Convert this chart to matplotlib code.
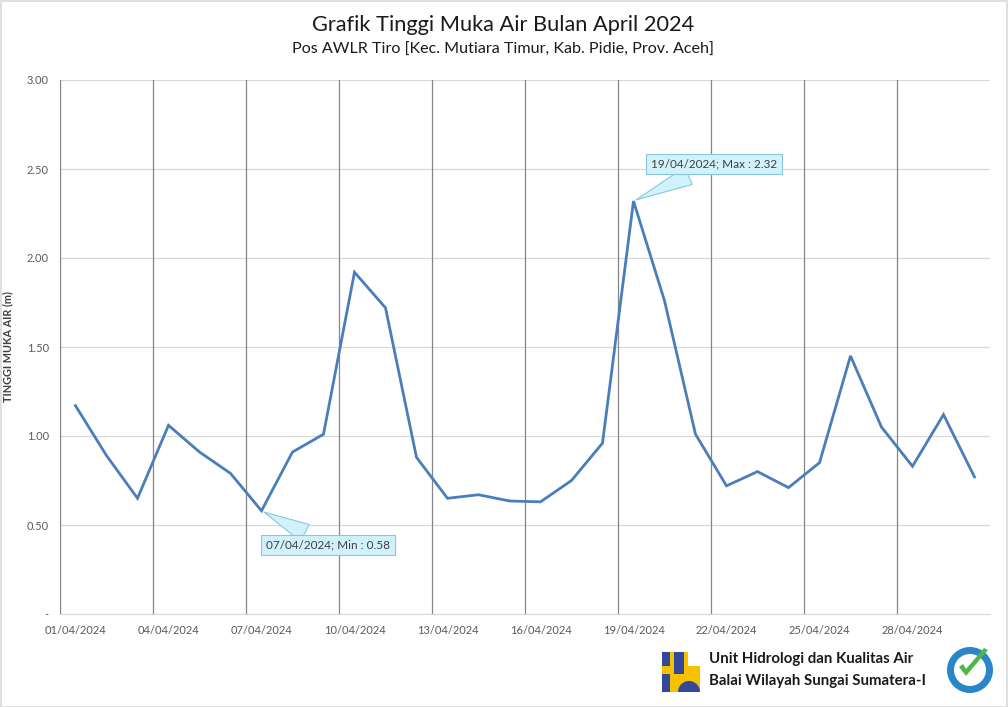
import matplotlib
matplotlib.use("Agg")
import matplotlib.pyplot as plt
import numpy as np
from matplotlib.patches import Rectangle, Circle, Wedge, Polygon

plt.rcParams['font.family'] = ['Lato', 'DejaVu Sans']

dates = [f"{d:02d}/04/2024" for d in range(1, 31)]
levels = [1.17, 0.89, 0.65, 1.06, 0.91, 0.79, 0.58, 0.91, 1.01, 1.92,
          1.72, 0.88, 0.65, 0.67, 0.635, 0.63, 0.75, 0.96, 2.32, 1.76,
          1.01, 0.72, 0.80, 0.71, 0.85, 1.45, 1.05, 0.83, 1.12, 0.77]
yticks = [0, 0.5, 1.0, 1.5, 2.0, 2.5, 3.0]
ytick_labels = ["-", "0.50", "1.00", "1.50", "2.00", "2.50", "3.00"]
title = "Grafik Tinggi Muka Air Bulan April 2024"
subtitle = "Pos AWLR Tiro [Kec. Mutiara Timur, Kab. Pidie, Prov. Aceh]"
ylabel = "TINGGI MUKA AIR (m)"
footer1 = "Unit Hidrologi dan Kualitas Air"
footer2 = "Balai Wilayah Sungai Sumatera-I"

W, H = 1008, 707
fig = plt.figure(figsize=(W / 100, H / 100), dpi=100)
ax = fig.add_axes([60 / W, 1 - 614 / H, 930 / W, 534 / H])

x = np.arange(len(levels))
ax.set_xlim(-0.5, len(levels) - 0.5)
ax.set_ylim(0, 3.0)
ax.set_yticks(yticks)
ax.set_yticklabels(ytick_labels)
ax.yaxis.grid(True, color='#d9d9d9', lw=0.9)
ax.set_axisbelow(True)
for i in range(0, len(levels), 3):
    ax.axvline(i - 0.5, color='#868686', lw=0.9, zorder=1)
ax.set_xticks(x[::3])
ax.set_xticklabels([dates[i] for i in x[::3]])
ax.tick_params(axis='both', length=0, labelsize=8, colors='#595959', pad=8)
for s in ['top', 'right']:
    ax.spines[s].set_visible(False)
ax.spines['left'].set_color('#868686')
ax.spines['bottom'].set_color('#d9d9d9')

ax.plot(x, levels, color='#4a7ebb', lw=2.0, zorder=3, solid_joinstyle='miter')

ax.set_ylabel(ylabel, fontsize=7.8, fontweight='bold', color='#404040')
ax.yaxis.set_label_coords((13 - 60) / 930, 0.5)

imin = int(np.argmin(levels))
imax = int(np.argmax(levels))
box = dict(boxstyle='square,pad=0.4', fc='#d2f2fb', ec='#86c9dc', lw=0.8)
arrow = dict(arrowstyle='wedge,tail_width=1.6,shrink_factor=0.5', fc='#d2f2fb',
             ec='#86c9dc', lw=0.8)
ax.annotate(f"{dates[imin]}; Min : {levels[imin]:.2f}", xy=(imin, levels[imin]),
            xytext=(48, -24.5), textcoords='offset points', ha='center', va='center',
            fontsize=8.5, color='#404040', bbox=box, arrowprops=arrow, zorder=5)
ax.annotate(f"{dates[imax]}; Max : {levels[imax]:.2f}", xy=(imax, levels[imax]),
            xytext=(58, 26.6), textcoords='offset points', ha='center', va='center',
            fontsize=8.5, color='#404040', bbox=box, arrowprops=arrow, zorder=5)

fig.text(503 / W, 1 - 25 / H, title, ha='center', va='center', fontsize=15.7, color='#1a1a1a')
fig.text(503 / W, 1 - 50 / H, subtitle, ha='center', va='center', fontsize=11.6, color='#1a1a1a')

# footer
fig.text(709 / W, 1 - 659 / H, footer1, ha='left', va='center', fontsize=10.8,
         fontweight='bold', color='#1a1a1a')
fig.text(709 / W, 1 - 681 / H, footer2, ha='left', va='center', fontsize=10.8,
         fontweight='bold', color='#1a1a1a')

# simple logo approximation
lax = fig.add_axes([660 / W, 1 - 694 / H, 42 / W, 44 / H])
lax.set_xlim(0, 42); lax.set_ylim(0, 44); lax.axis('off')
lax.add_patch(Rectangle((2, 2), 38, 40, fc='#f6c200', ec='none'))
lax.add_patch(Rectangle((2, 2), 8, 18, fc='#33479b', ec='none'))
lax.add_patch(Rectangle((2, 28), 8, 14, fc='#33479b', ec='none'))
lax.add_patch(Rectangle((14, 20), 10, 22, fc='#33479b', ec='none'))
lax.add_patch(Wedge((29, 2), 11, 0, 180, fc='#33479b', ec='none'))
lax.add_patch(Rectangle((28, 28), 12, 14, fc='#ffffff', ec='none'))

iax = fig.add_axes([944 / W, 1 - 696 / H, 54 / W, 54 / H])
iax.set_xlim(0, 54); iax.set_ylim(0, 54); iax.axis('off'); iax.set_aspect('equal')
iax.add_patch(Circle((26, 26), 23, fc='#2a86c8', ec='none'))
iax.add_patch(Circle((26, 26), 16, fc='white', ec='none'))
iax.add_patch(Polygon([[15, 29], [22, 20], [44, 46], [40, 48], [22, 27], [19, 32]],
                      fc='#4cb848', ec='none'))

# outer border
fig.patches.append(Rectangle((0.5 / W, 0.5 / H), 1 - 1.5 / W, 1 - 1.5 / H,
                             transform=fig.transFigure, fill=False, ec='#d9d9d9', lw=1.2))

fig.savefig("out.png", dpi=100)
